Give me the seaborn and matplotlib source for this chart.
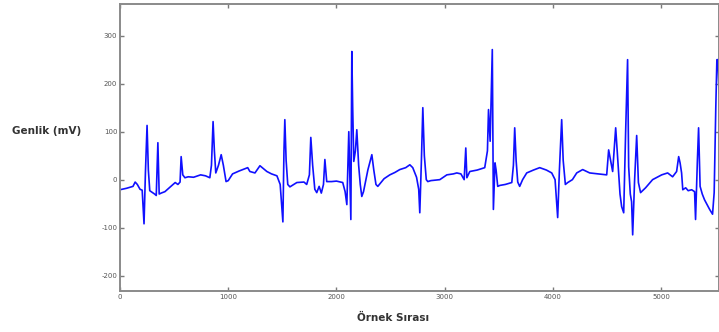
import matplotlib
matplotlib.use("Agg")
import matplotlib.pyplot as plt
import seaborn as sns
import pandas as pd

sns.set_theme(style="white")
plt.rcParams['font.family'] = ['DejaVu Sans']
plt.rcParams['axes.unicode_minus'] = False

# ECG trace vertices (sample index, amplitude mV)
sample_index = [
    0, 60, 120, 140, 160, 185, 205, 222, 235, 250, 262, 275, 320, 335, 350, 362, 380,
    415, 450, 480, 510, 535, 555, 565, 580, 600, 630, 680, 745, 790, 830, 845, 860,
    872, 885, 910, 935, 955, 980, 1000, 1040, 1100, 1180, 1200, 1247, 1293, 1357,
    1400, 1450, 1480, 1505, 1515, 1523, 1535, 1550, 1570, 1634, 1700, 1725, 1750,
    1763, 1780, 1800, 1818, 1840, 1860, 1880, 1893, 1910, 1955, 2000, 2058, 2080,
    2096, 2114, 2133, 2142, 2150, 2160, 2175, 2188, 2205, 2220, 2234, 2250, 2290,
    2327, 2345, 2365, 2382, 2440, 2493, 2540, 2585, 2640, 2678, 2705, 2740, 2760,
    2770, 2785, 2798, 2812, 2830, 2844, 2872, 2955, 3020, 3080, 3112, 3150, 3180,
    3195, 3205, 3232, 3300, 3370, 3395, 3405, 3420, 3440, 3450, 3465, 3475, 3490,
    3510, 3560, 3620, 3635, 3647, 3660, 3675, 3693, 3720, 3758, 3820, 3878, 3940,
    3989, 4020, 4044, 4060, 4081, 4095, 4115, 4137, 4180, 4220, 4275, 4340, 4420,
    4497, 4515, 4552, 4580, 4600, 4620, 4635, 4654, 4672, 4690, 4700, 4715, 4727,
    4737, 4755, 4774, 4790, 4810, 4856, 4921, 5005, 5060, 5106, 5143, 5162, 5175,
    5189, 5200, 5227, 5250, 5282, 5309, 5318, 5335, 5346, 5360, 5380, 5401, 5448,
    5475, 5490, 5505, 5515, 5525, 5535,
]
amplitude_mv = [
    -21, -18, -14, -5, -10, -20, -22, -92, 15, 113, 20, -23, -30, -33, 77, -30, -28,
    -25, -18, -12, -6, -10, -5, 48, 10, 4, 6, 5, 10, 8, 4, 30, 121,
    60, 14, 30, 52, 30, -4, -2, 12, 18, 25, 17, 14, 29, 17,
    12, 8, -10, -88, 60, 125, 40, -10, -15, -6, -5, -10, 10,
    88, 30, -20, -27, -14, -28, -10, 42, -4, -4, -3, -6, -25,
    -52, 100, -83, 267, 150, 38, 60, 104, 30, -10, -35, -25, 20,
    52, 20, -10, -14, 2, 10, 15, 21, 25, 31, 25, 5, -20,
    -69, 40, 150, 50, 0, -4, -2, 0, 10, 12, 14, 12, 0,
    66, 4, 17, 20, 25, 60, 146, 80, 271, -62, 35, 20, -14,
    -12, -10, -6, 30, 108, 40, -5, -14, 0, 14, 20, 25, 20,
    14, 0, -79, 20, 125, 40, -10, -6, 0, 14, 21, 14, 12,
    10, 62, 17, 108, 40, -30, -56, -69, 100, 250, 27, -30, -46,
    -115, 0, 92, -6, -27, -17, 0, 10, 14, 6, 17, 48, 35,
    14, -21, -17, -23, -21, -25, -83, 40, 108, -14, -30, -42, -62,
    -72, -27, 150, 250, 250, 180,
]

x_ticks = [0, 1000, 2000, 3000, 4000, 5000]
y_ticks = [-200, -100, 0, 100, 200, 300]

df = pd.DataFrame({"sample": sample_index, "mv": amplitude_mv})

fig = plt.figure(figsize=(7.19, 3.32), dpi=100)
fig.patch.set_facecolor("white")
ax = fig.add_axes([120 / 719, 41 / 332, 598.5 / 719, 287 / 332])
ax.set_facecolor("white")

sns.lineplot(data=df, x="sample", y="mv", ax=ax, color="#1010ff",
             linewidth=1.2, sort=False, estimator=None)

ax.set_xlim(0, 5530)
ax.set_ylim(-232, 366)
ax.set_xticks(x_ticks)
ax.set_yticks(y_ticks)
ax.set_xticklabels([str(v) for v in x_ticks])
ax.set_yticklabels([str(v) for v in y_ticks])
ax.set_xlabel("")
ax.set_ylabel("")

for s in ax.spines.values():
    s.set_visible(True)
    s.set_color("#8a8a8a")
    s.set_linewidth(1.4)

ax.tick_params(axis="both", which="both", direction="in", length=3, width=1.0,
               color="#7a7a7a", labelsize=5, labelcolor="#555555",
               top=True, right=True, bottom=True, left=True, pad=2)

fig.text(47 / 719, 1 - 131 / 332, "Genlik (mV)", ha="center", va="center",
         fontsize=7.5, fontweight="bold", color="#333333")
fig.text(393 / 719, 1 - 318 / 332, "Örnek Sırası", ha="center", va="center",
         fontsize=7.5, fontweight="bold", color="#333333")

fig.savefig("out.png", dpi=100, facecolor="white")
